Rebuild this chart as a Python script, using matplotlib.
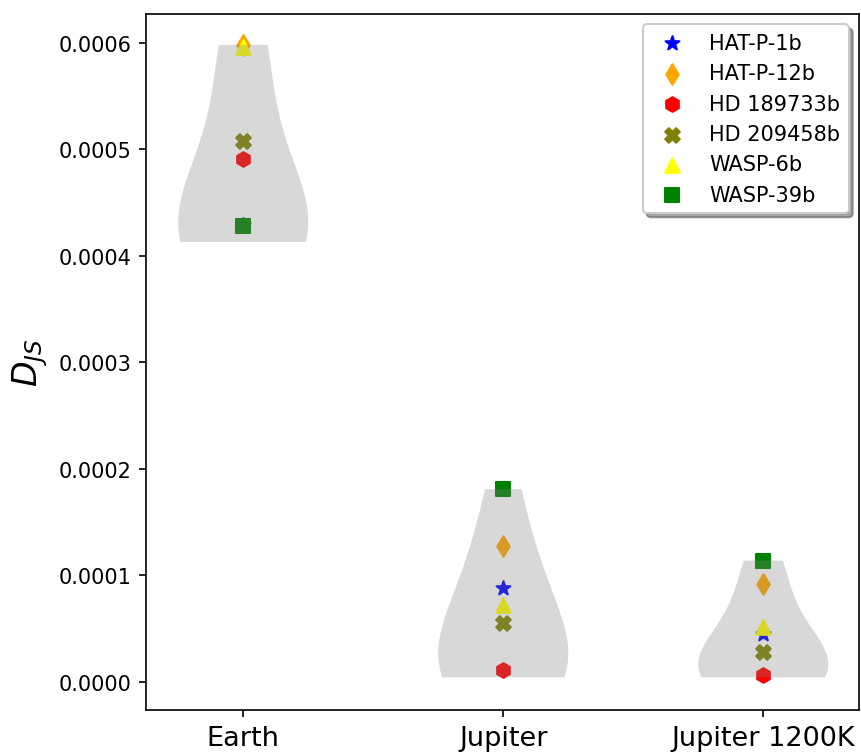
import numpy as np
import matplotlib
matplotlib.use("Agg")
import matplotlib.pyplot as plt

categories = ["Earth", "Jupiter", "Jupiter 1200K"]
planets = ["HAT-P-1b", "HAT-P-12b", "HD 189733b", "HD 209458b", "WASP-6b", "WASP-39b"]
markers = ["*", "d", "h", "X", "^", "s"]
colors = ["blue", "orange", "red", "olive", "yellow", "green"]

# D_JS per planet for (Earth, Jupiter, Jupiter 1200K)
hat_p_1b = [4.29e-4, 0.88e-4, 0.45e-4]
hat_p_12b = [5.98e-4, 1.28e-4, 0.92e-4]
hd_189733b = [4.91e-4, 0.113e-4, 0.066e-4]
hd_209458b = [5.08e-4, 0.55e-4, 0.28e-4]
wasp_6b = [5.96e-4, 0.72e-4, 0.516e-4]
wasp_39b = [4.28e-4, 1.81e-4, 1.14e-4]
# lower end of each grey violin
violin_floor = [4.13e-4, 0.044e-4, 0.044e-4]
floor_weight = 4
violin_bw = 0.8

series = [hat_p_1b, hat_p_12b, hd_189733b, hd_209458b, wasp_6b, wasp_39b]
positions = np.arange(1, len(categories) + 1)

fig = plt.figure(figsize=(861 / 150, 753 / 150), dpi=150)
ax = fig.add_axes([146 / 861, (753 - 711) / 753, (859 - 146) / 861, (711 - 15) / 753])

for name, vals, m, c in zip(planets, series, markers, colors):
    ax.scatter(positions, vals, marker=m, c=c, s=49, label=name, zorder=2)

violin_data = [[s[i] for s in series] + [violin_floor[i]] * floor_weight
               for i in range(len(categories))]
parts = ax.violinplot(violin_data, positions=positions, widths=0.5,
                      showextrema=False, bw_method=violin_bw)
for b in parts["bodies"]:
    b.set_facecolor("gray")
    b.set_edgecolor("none")
    b.set_alpha(0.3)
    b.set_zorder(3)

ax.set_xticks(positions)
ax.set_xticklabels(categories, fontsize=13)
ax.tick_params(axis="y", labelsize=10)
ax.set_xlim(0.626, 3.368)
ax.set_ylim(-2.63e-5, 6.27e-4)
ax.set_ylabel(r"$D_{JS}$", fontsize=16)

leg = ax.legend(loc="upper right", shadow=True, fontsize=10)
leg.set_zorder(5)

fig.savefig("out.png", dpi=150)
